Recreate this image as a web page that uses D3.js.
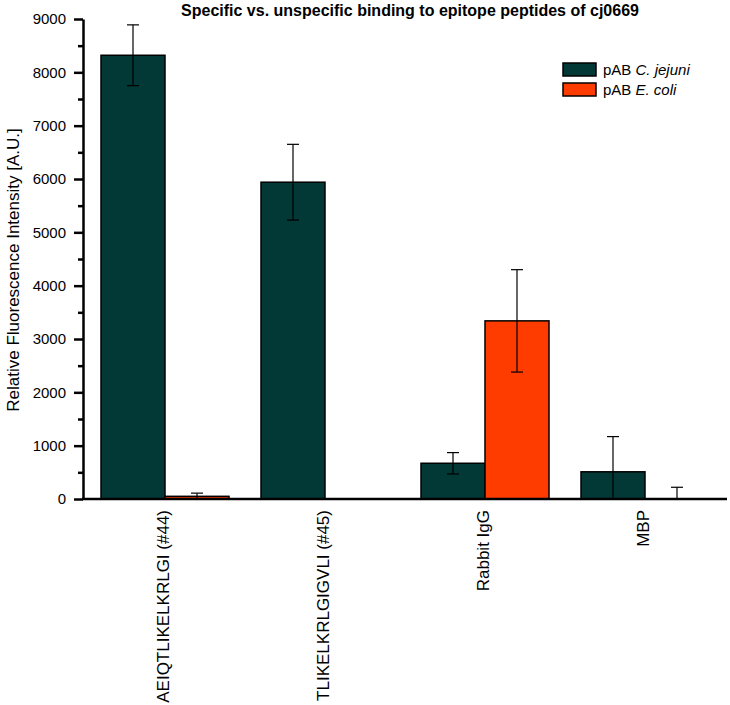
<!DOCTYPE html>
<html>
<head>
<meta charset="utf-8">
<script src="https://cdn.jsdelivr.net/npm/d3@7"></script>
<style>
  body { margin: 0; background: #fff; }
  text { font-family: "Liberation Sans", Arial, sans-serif; fill: #000; }
</style>
</head>
<body>
<svg id="chart" width="730" height="705"></svg>
<script>
// data
var categories = ['AEIQTLIKELKRLGI (#44)', 'TLIKELKRLGIGVLI (#45)', 'Rabbit IgG', 'MBP'];
var series = ['jejuni', 'coli'];
var jejuniValues = [8320, 5940, 670, 510];
var jejuniErrors = [570, 710, 200, 660];
var coliValues = [50, 0, 3340, 0];
var coliErrors = [60, 0, 960, 220];
var yTicks = [0, 1000, 2000, 3000, 4000, 5000, 6000, 7000, 8000, 9000];
var yMinorTicks = [500, 1500, 2500, 3500, 4500, 5500, 6500, 7500, 8500];

var colors = { jejuni: '#023836', coli: '#ff3c00' };

var svg = d3.select('#chart');
var margin = { top: 19, left: 83 },
    chartHeight = 480;

var rows = [];
categories.forEach(function (c, i) {
  rows.push({ cat: c, key: 'jejuni', value: jejuniValues[i], err: jejuniErrors[i] });
  rows.push({ cat: c, key: 'coli', value: coliValues[i], err: coliErrors[i] });
});

var x = d3.scaleBand().domain(categories).range([85, 725]).paddingInner(0.2).paddingOuter(0.1);
var xs = d3.scaleBand().domain(series).range([0, x.bandwidth()]);
var y = d3.scaleLinear().domain([0, 9000]).range([margin.top + chartHeight, margin.top]);

// bars
svg.append('g').selectAll('rect')
  .data(rows)
  .join('rect')
  .attr('x', function (d) { return x(d.cat) + xs(d.key); })
  .attr('width', xs.bandwidth())
  .attr('y', function (d) { return y(d.value); })
  .attr('height', function (d) { return y(0) - y(d.value); })
  .attr('fill', function (d) { return colors[d.key]; })
  .attr('stroke', '#000')
  .attr('stroke-width', 1.5);

// error bars
var eb = svg.append('g').attr('stroke', '#000').attr('stroke-width', 1.2)
  .selectAll('g')
  .data(rows.filter(function (d) { return d.err > 0; }))
  .join('g');
function cx(d) { return x(d.cat) + xs(d.key) + xs.bandwidth() / 2; }
eb.append('line')
  .attr('x1', cx).attr('x2', cx)
  .attr('y1', function (d) { return y(Math.max(0, d.value - d.err)); })
  .attr('y2', function (d) { return y(d.value + d.err); });
eb.append('line')
  .attr('x1', function (d) { return cx(d) - 6; }).attr('x2', function (d) { return cx(d) + 6; })
  .attr('y1', function (d) { return y(d.value + d.err); })
  .attr('y2', function (d) { return y(d.value + d.err); });
eb.filter(function (d) { return d.value - d.err > 0; }).append('line')
  .attr('x1', function (d) { return cx(d) - 6; }).attr('x2', function (d) { return cx(d) + 6; })
  .attr('y1', function (d) { return y(d.value - d.err); })
  .attr('y2', function (d) { return y(d.value - d.err); });

// y axis
var yAxis = d3.axisLeft(y).tickValues(yTicks).tickFormat(d3.format('d'))
  .tickSize(9).tickSizeOuter(0).tickPadding(8);
var yg = svg.append('g').attr('transform', 'translate(' + margin.left + ',0)').call(yAxis);
yg.select('.domain').attr('stroke-width', 2.5);
yg.selectAll('.tick line').attr('stroke-width', 2.5);
yg.selectAll('.tick text').attr('font-size', 15).attr('font-family', '"Liberation Sans", Arial, sans-serif');
var ygMinor = svg.append('g').attr('transform', 'translate(' + margin.left + ',0)')
  .call(d3.axisLeft(y).tickValues(yMinorTicks).tickSize(5).tickSizeOuter(0).tickFormat(''));
ygMinor.select('.domain').remove();
ygMinor.selectAll('.tick line').attr('stroke-width', 2.5);

// x axis line
svg.append('line')
  .attr('x1', margin.left - 1).attr('x2', 727)
  .attr('y1', y(0)).attr('y2', y(0))
  .attr('stroke', '#000').attr('stroke-width', 2.5);

// x labels, rotated
svg.append('g').selectAll('text')
  .data(categories)
  .join('text')
  .attr('transform', function (d) {
    return 'translate(' + (x(d) + x.bandwidth() / 2 + 4) + ',' + (y(0) + 11) + ') rotate(-90)';
  })
  .attr('text-anchor', 'end')
  .attr('font-size', 17)
  .text(function (d) { return d; });

// y title
svg.append('text')
  .attr('transform', 'translate(19,270) rotate(-90)')
  .attr('text-anchor', 'middle')
  .attr('font-size', 17)
  .text('Relative Fluorescence Intensity [A.U.]');

// title
svg.append('text')
  .attr('x', 410).attr('y', 16)
  .attr('text-anchor', 'middle')
  .attr('font-size', 16)
  .attr('font-weight', 'bold')
  .text('Specific vs. unspecific binding to epitope peptides of cj0669');

// legend
var legendItems = [
  { key: 'jejuni', italic: 'C. jejuni' },
  { key: 'coli', italic: 'E. coli' }
];
var lg = svg.append('g').attr('transform', 'translate(563,63)')
  .selectAll('g').data(legendItems).join('g')
  .attr('transform', function (d, i) { return 'translate(0,' + (i * 20) + ')'; });
lg.append('rect')
  .attr('width', 33).attr('height', 13)
  .attr('fill', function (d) { return colors[d.key]; })
  .attr('stroke', '#000').attr('stroke-width', 1.5);
var lt = lg.append('text').attr('x', 40).attr('y', 12).attr('font-size', 15);
lt.append('tspan').text('pAB ');
lt.append('tspan').attr('font-style', 'italic').text(function (d) { return d.italic; });
</script>
</body>
</html>
